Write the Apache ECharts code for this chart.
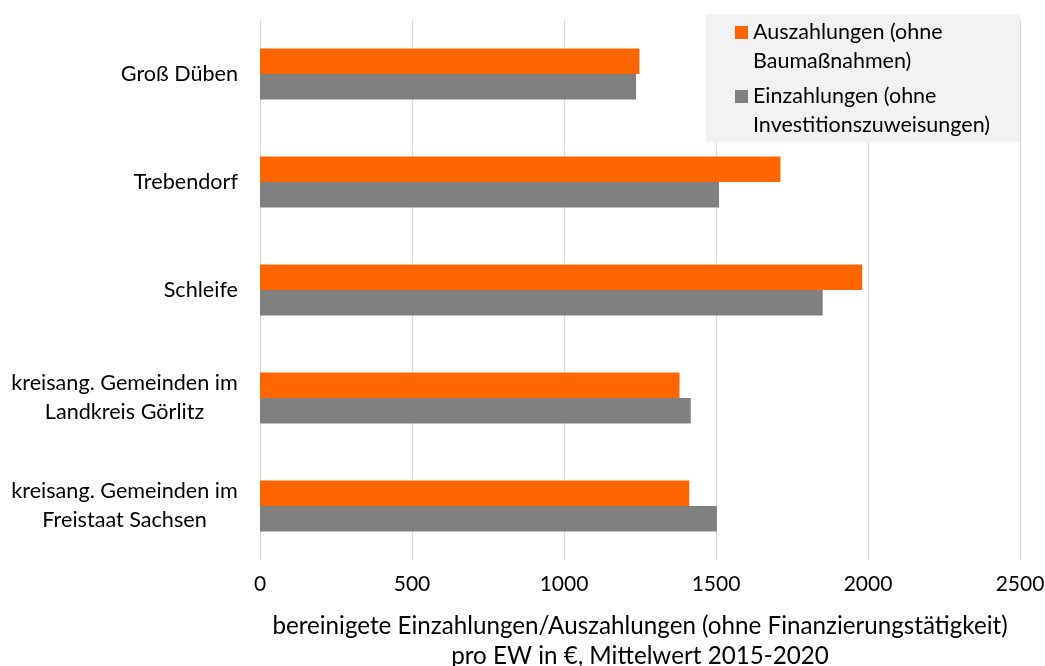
<!DOCTYPE html>
<html>
<head>
<meta charset="utf-8">
<script src="https://cdn.jsdelivr.net/npm/echarts@6/dist/echarts.min.js"></script>
<style>html,body{margin:0;padding:0;background:#fff}#c{width:1045px;height:666px}</style>
</head>
<body>
<div id="c"></div>
<script>
const categories = ["Groß Düben", "Trebendorf", "Schleife", "kreisang. Gemeinden im\nLandkreis Görlitz", "kreisang. Gemeinden im\nFreistaat Sachsen"];
const seriesNames = ["Auszahlungen (ohne Baumaßnahmen)", "Einzahlungen (ohne Investitionszuweisungen)"];
const legendLines = {
  "Auszahlungen (ohne Baumaßnahmen)": ["Auszahlungen (ohne", "Baumaßnahmen)"],
  "Einzahlungen (ohne Investitionszuweisungen)": ["Einzahlungen (ohne", "Investitionszuweisungen)"]
};
const auszahlungen = [1248, 1712, 1981, 1380, 1412];
const einzahlungen = [1237, 1510, 1851, 1417, 1503];
const axisTitle = "bereinigete Einzahlungen/Auszahlungen (ohne Finanzierungstätigkeit)\npro EW in €, Mittelwert 2015-2020";

const FONT = "Lato";
const LABEL_SIZE = 21.6;
function measure(t, size) {
  const c = document.createElement('canvas').getContext('2d');
  c.font = size + 'px ' + FONT;
  return c.measureText(t).width;
}
const multiW = Math.ceil(Math.max(...categories.filter(c => c.includes('\n')).flatMap(c => c.split('\n')).map(s => measure(s, LABEL_SIZE))));

const chart = echarts.init(document.getElementById('c'));
chart.setOption({
  animation: false,
  textStyle: { fontFamily: FONT, color: '#000' },
  grid: { left: 260, right: 25, top: 20, bottom: 106, containLabel: false, outerBoundsMode: 'none' },
  graphic: [{
    type: 'rect', z: 6, left: 706, top: 14,
    shape: { width: 314, height: 128 },
    style: { fill: '#f2f2f2' }
  }],
  legend: {
    left: 735, top: -11,
    z: 10,
    orient: 'vertical',
    padding: 0,
    itemWidth: 13, itemHeight: 13,
    itemGap: -23,
    icon: 'rect',
    textStyle: { fontFamily: FONT, fontSize: 21.5, color: '#000', lineHeight: 29 },
    formatter: name => '\n' + legendLines[name].join('\n'),
    data: seriesNames
  },
  xAxis: {
    type: 'value', min: 0, max: 2500, interval: 500,
    axisLine: { show: false }, axisTick: { show: false },
    splitLine: { lineStyle: { color: '#d9d9d9', width: 1 } },
    axisLabel: { fontSize: 21, color: '#000', margin: 14, formatter: v => String(v) },
    name: axisTitle, nameLocation: 'middle', nameGap: 51,
    nameTextStyle: { fontSize: 24.2, color: '#000', lineHeight: 30 }
  },
  yAxis: {
    type: 'category', data: categories, inverse: true,
    axisLine: { show: false }, axisTick: { show: false },
    axisLabel: {
      fontSize: LABEL_SIZE, color: '#000', margin: 22, lineHeight: 29,
      formatter: v => v.includes('\n') ? v.split('\n').map(s => '{c|' + s + '}').join('\n') : v,
      rich: { c: { width: multiW, align: 'center', fontSize: LABEL_SIZE, lineHeight: 29, fontFamily: FONT, color: '#000' } }
    }
  },
  series: [
    { name: seriesNames[0], type: 'bar', data: auszahlungen, itemStyle: { color: '#ff6600' }, barGap: '0%', barCategoryGap: '53%' },
    { name: seriesNames[1], type: 'bar', data: einzahlungen, itemStyle: { color: '#808080' }, barGap: '0%', barCategoryGap: '53%' }
  ]
});
</script>
</body>
</html>
